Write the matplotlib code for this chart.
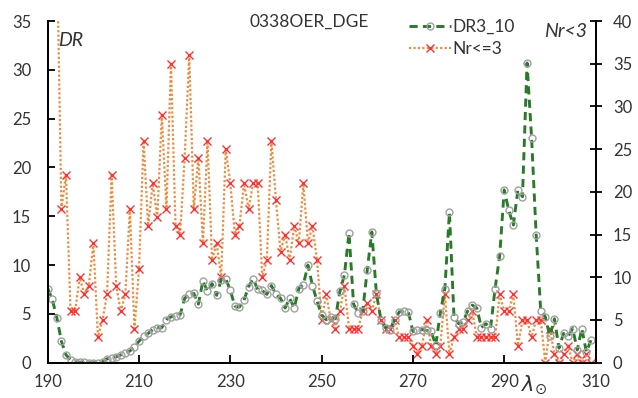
import matplotlib
matplotlib.use('Agg')
import matplotlib.pyplot as plt
import numpy as np

plt.rcParams['font.family'] = ['Lato', 'DejaVu Sans']
plt.rcParams['mathtext.fontset'] = 'dejavusans'

# --- data ---
dr_lam = np.arange(190, 310)
dr_vals = [7.6, 6.5, 4.6, 2.2, 0.8, 0.3, 0.1, 0.05, 0.05, 0.0,
           0.0, 0.0, 0.1, 0.4, 0.5, 0.6, 0.8, 1.0, 1.2, 1.6,
           2.2, 2.7, 3.0, 3.4, 3.6, 3.6, 4.4, 4.7, 4.8, 4.9,
           6.6, 7.0, 7.1, 6.0, 8.4, 7.3, 8.1, 6.9, 8.5, 8.6,
           7.4, 5.8, 5.7, 6.4, 7.8, 8.6, 7.5, 7.4, 7.0, 7.9,
           7.0, 6.6, 5.6, 6.6, 5.6, 7.6, 8.0, 10.0, 7.9, 6.3,
           4.9, 4.4, 4.7, 4.5, 7.3, 9.0, 13.3, 6.0, 5.1, 5.3,
           9.5, 13.4, 7.1, 4.4, 3.6, 3.4, 4.4, 5.2, 5.3, 5.2,
           3.2, 3.3, 3.4, 3.3, 3.2, 1.8, 5.1, 7.6, 15.4, 4.7,
           4.0, 4.2, 5.3, 5.9, 5.6, 3.6, 4.0, 3.5, 7.6, 10.9,
           17.7, 15.6, 14.1, 17.7, 17.0, 30.7, 23.0, 13.1, 5.3, 4.7,
           2.7, 4.5, 1.5, 3.0, 2.7, 3.5, 1.3, 3.5, 1.1, 2.3]

nr_lam = np.arange(192, 310)
nr_vals = [49, 18, 22, 6, 6, 10, 8, 9, 14,
           3, 5, 8, 22, 9, 6, 8, 18, 4, 11,
           26, 16, 21, 17, 29, 18, 35, 16, 15, 24,
           36, 18, 24, 14, 26, 12, 14, 10, 25, 21,
           15, 16, 21, 18, 21, 21, 10, 12, 26, 19,
           13, 15, 12, 16, 14, 21, 14, 16, 12, 5,
           8, 5, 4, 6, 9, 4, 4, 4, 6, 7,
           6, 8, 5, 4, 4, 5, 3, 3, 3, 2,
           1, 2, 5, 2, 1, 2, 8, 1, 3, 4,
           4, 5, 6, 3, 3, 3, 3, 3, 8, 6,
           6, 8, 2, 5, 5, 3, 5, 5, 0, 4,
           1, 0, 1, 2, 0, 1, 0, 1, 0]

x_ticks = [190, 210, 230, 250, 270, 290, 310]

# --- figure ---
fig = plt.figure(figsize=(6.38, 3.98), dpi=100)
ax = fig.add_axes([0.0748, 0.0887, 0.8586, 0.8585])
ax2 = ax.twinx()

l2, = ax2.plot(nr_lam, nr_vals, linestyle=(0, (1, 1)), color='#f08a3c', lw=1.6,
               marker='x', markersize=6, markeredgecolor='#ff3030',
               markeredgewidth=1.0, label='Nr<=3')
l1, = ax.plot(dr_lam, dr_vals, linestyle=(0, (2.8, 1.8)), color='#2a7a2a', lw=2.1,
              marker='o', markersize=5, markerfacecolor='none',
              markeredgecolor='#a0a0a0', markeredgewidth=1.0, label='DR3_10')

# DR series on top
ax.set_zorder(ax2.get_zorder() + 1)
ax.patch.set_visible(False)

ax.set_xlim(190, 310)
ax.set_ylim(0, 35)
ax2.set_ylim(0, 40)
ax.set_xticks(x_ticks)
ax.set_yticks(range(0, 36, 5))
ax2.set_yticks(range(0, 41, 5))

for a in (ax, ax2):
    a.spines['top'].set_visible(False)
    for s in a.spines.values():
        s.set_linewidth(1.3)
ax.tick_params(axis='y', direction='in', length=5, width=1.3, pad=12,
               labelsize=12, labelcolor='#333333')
ax.tick_params(axis='x', direction='in', length=6, width=1.3, pad=8,
               labelsize=12, labelcolor='#333333')
ax2.tick_params(axis='y', direction='inout', length=9, width=1.3, pad=8,
                labelsize=12, labelcolor='#333333')

# --- annotations ---
ax.text(0.478, 0.997, '0338OER_DGE', transform=ax.transAxes, ha='center',
        va='center', fontsize=12.5, color='#333333')
ax.text(0.018, 0.944, 'DR', transform=ax.transAxes, ha='left', va='center',
        fontsize=14, style='italic', color='#333333')
ax.text(0.945, 0.968, 'Nr<3', transform=ax.transAxes, ha='center', va='center',
        fontsize=14, style='italic', color='#333333')
ax.text(0.887, -0.068, r'$\lambda_{\odot}$', transform=ax.transAxes, ha='center',
        va='center', fontsize=15, color='#333333')

fig.legend(handles=[l1, l2], loc='upper left', bbox_to_anchor=(0.628, 0.975),
           frameon=False, fontsize=12.5, handlelength=2.4, handletextpad=0.1,
           labelspacing=0.35, borderpad=0, labelcolor='#333333')

fig.savefig('out.png', dpi=100)
